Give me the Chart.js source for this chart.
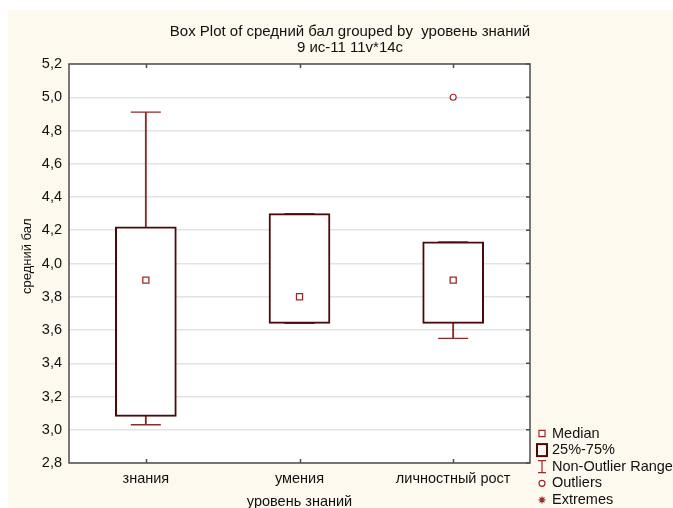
<!DOCTYPE html>
<html>
<head>
<meta charset="utf-8">
<style>
  html, body { margin: 0; padding: 0; background: #ffffff; }
  #wrap { width: 673px; height: 508px; }
</style>
<script src="https://cdn.jsdelivr.net/npm/chart.js@4/dist/chart.umd.min.js"></script>
</head>
<body>
<div id="wrap"><canvas id="c" width="673" height="508"></canvas></div>
<script>
// Box plot summary per group
const categories = ['знания', 'умения', 'личностный рост'];
const medians = [3.90, 3.80, 3.90];
const q1 = [3.08, 3.64, 3.64];
const q3 = [4.22, 4.30, 4.13];
const whiskerLow = [3.03, 3.64, 3.55];
const whiskerHigh = [4.91, 4.30, 4.13];
const outliers = [[], [], [5.0]];
const yTicks = [2.8, 3.0, 3.2, 3.4, 3.6, 3.8, 4.0, 4.2, 4.4, 4.6, 4.8, 5.0, 5.2];
const legendItems = ['Median', '25%-75%', 'Non-Outlier Range', 'Outliers', 'Extremes'];

const FONT = 'Liberation Sans, Arial, Helvetica, sans-serif';
const FS = 14.5;
const BOX_COLOR = '#4b0a0a';
const WHISKER_COLOR = '#8c2a2a';
const MARK_COLOR = '#9c2a2a';
const PANEL = '#fef9ef';

const backgroundPlugin = {
  id: 'panelBackground',
  beforeDraw(chart) {
    const { ctx, chartArea: a, width, height } = chart;
    ctx.save();
    ctx.fillStyle = '#ffffff';
    ctx.fillRect(0, 0, width, height);
    ctx.fillStyle = PANEL;
    ctx.fillRect(8, 10, width - 8, height - 10);
    ctx.fillStyle = '#ffffff';
    ctx.fillRect(a.left, a.top, a.right - a.left, a.bottom - a.top);
    ctx.restore();
  }
};

const framePlugin = {
  id: 'plotFrame',
  afterDatasetsDraw(chart) {
    const { ctx, chartArea: a, scales } = chart;
    ctx.save();
    ctx.strokeStyle = '#4d4d4d';
    ctx.lineWidth = 1.5;
    ctx.strokeRect(a.left, a.top, a.right - a.left, a.bottom - a.top);
    ctx.beginPath();
    categories.forEach((c, i) => {
      const x = Math.round(scales.x.getPixelForValue(i)) + 0.5;
      ctx.moveTo(x, a.top); ctx.lineTo(x, a.top + 4);
      ctx.moveTo(x, a.bottom); ctx.lineTo(x, a.bottom - 4);
    });
    yTicks.forEach(v => {
      const y = scales.y.getPixelForValue(v);
      ctx.moveTo(a.right, y); ctx.lineTo(a.right - 4, y);
    });
    ctx.stroke();
    ctx.restore();
  }
};

const legendPlugin = {
  id: 'boxLegend',
  afterDraw(chart) {
    const { ctx, chartArea: a } = chart;
    const sx = a.right + 12;
    const tx = a.right + 22;
    const y0 = a.bottom - 29.5;
    const step = 16.6;
    ctx.save();
    ctx.font = FS + 'px ' + FONT;
    ctx.textBaseline = 'middle';
    ctx.textAlign = 'left';
    legendItems.forEach((label, i) => {
      const y = y0 + i * step;
      ctx.lineWidth = 1.2;
      ctx.strokeStyle = MARK_COLOR;
      ctx.fillStyle = '#ffffff';
      if (i === 0) {
        Chart.helpers.drawPoint(ctx, { pointStyle: 'rect', radius: 4.3, rotation: 0, borderWidth: 1.2 }, sx, y);
      } else if (i === 1) {
        ctx.strokeStyle = BOX_COLOR;
        ctx.lineWidth = 2;
        ctx.strokeRect(sx - 5, y - 6, 10, 12);
      } else if (i === 2) {
        ctx.beginPath();
        ctx.moveTo(sx, y - 6); ctx.lineTo(sx, y + 6);
        ctx.moveTo(sx - 4, y - 6); ctx.lineTo(sx + 4, y - 6);
        ctx.moveTo(sx - 4, y + 6); ctx.lineTo(sx + 4, y + 6);
        ctx.stroke();
      } else if (i === 3) {
        Chart.helpers.drawPoint(ctx, { pointStyle: 'circle', radius: 3, rotation: 0, borderWidth: 1.2 }, sx, y);
      } else {
        Chart.helpers.drawPoint(ctx, { pointStyle: 'star', radius: 3.5, rotation: 0, borderWidth: 1.2 }, sx, y);
      }
      ctx.fillStyle = '#111111';
      ctx.fillText(label, tx, y);
    });
    ctx.restore();
  }
};

const fmt = v => Number(v).toFixed(1).replace('.', ',');

new Chart(document.getElementById('c'), {
  type: 'bar',
  data: {
    labels: categories,
    datasets: [
      {
        label: 'range',
        data: categories.map((c, i) => [whiskerLow[i], whiskerHigh[i]]),
        backgroundColor: WHISKER_COLOR,
        borderWidth: 0,
        barThickness: 1.2,
        grouped: false,
        order: 4
      },
      {
        type: 'line',
        label: 'caps',
        data: categories.flatMap((c, i) => [{ x: c, y: whiskerLow[i] }, { x: c, y: whiskerHigh[i] }]),
        showLine: false,
        pointStyle: 'line',
        pointRadius: 15,
        pointBorderWidth: 1.3,
        pointBorderColor: WHISKER_COLOR,
        order: 3
      },
      {
        label: '25%-75%',
        data: categories.map((c, i) => [q1[i], q3[i]]),
        backgroundColor: '#ffffff',
        borderColor: BOX_COLOR,
        borderWidth: 2,
        borderSkipped: false,
        barThickness: 61,
        grouped: false,
        order: 2
      },
      {
        type: 'line',
        label: 'Median',
        data: categories.map((c, i) => ({ x: c, y: medians[i] })),
        showLine: false,
        pointStyle: 'rect',
        pointRadius: 4.3,
        pointBorderWidth: 1.3,
        pointBorderColor: MARK_COLOR,
        pointBackgroundColor: '#ffffff',
        order: 0
      },
      {
        type: 'line',
        label: 'Outliers',
        data: categories.flatMap((c, i) => outliers[i].map(v => ({ x: c, y: v }))),
        showLine: false,
        pointStyle: 'circle',
        pointRadius: 3,
        pointBorderWidth: 1.2,
        pointBorderColor: MARK_COLOR,
        pointBackgroundColor: '#ffffff',
        order: 0
      }
    ]
  },
  options: {
    responsive: false,
    animation: false,
    devicePixelRatio: 1,
    layout: { padding: { left: 27, top: 0, right: 0, bottom: 0 } },
    plugins: {
      legend: { display: false },
      tooltip: { enabled: false },
      title: {
        display: true,
        text: 'Box Plot of средний бал grouped by  уровень знаний',
        color: '#111111',
        font: { family: FONT, size: 15, weight: 'normal', lineHeight: 1 },
        padding: { top: 24, bottom: 1.5 }
      },
      subtitle: {
        display: true,
        text: '9 ис-11 11v*14c',
        color: '#111111',
        font: { family: FONT, size: 15, weight: 'normal', lineHeight: 1 },
        padding: { top: 0, bottom: 8.5 }
      }
    },
    scales: {
      x: {
        type: 'category',
        offset: true,
        grid: { display: false, drawTicks: false },
        border: { display: false },
        ticks: {
          color: '#111111',
          font: { family: FONT, size: FS },
          padding: 7,
          maxRotation: 0,
          autoSkip: false
        },
        title: {
          display: true,
          text: 'уровень знаний',
          color: '#111111',
          font: { family: FONT, size: FS },
          padding: { top: 2, bottom: -3 }
        },
        afterFit(s) { s.height = 45; }
      },
      y: {
        type: 'linear',
        min: 2.8,
        max: 5.2,
        afterBuildTicks(s) { s.ticks = yTicks.map(v => ({ value: v })); },
        grid: { color: '#e3e3e3', lineWidth: 1.5, drawTicks: false },
        border: { display: false },
        ticks: {
          color: '#111111',
          font: { family: FONT, size: FS },
          padding: 7,
          callback: v => fmt(v)
        },
        title: {
          display: true,
          text: '    средний бал',
          color: '#111111',
          font: { family: FONT, size: 13 },
          padding: { top: -7.8, bottom: 0 }
        },
        afterFit(s) { s.width = 42; }
      },
      y2: {
        type: 'linear',
        position: 'right',
        min: 2.8,
        max: 5.2,
        grid: { display: false },
        border: { display: false },
        ticks: { display: false },
        afterFit(s) { s.width = 143; }
      }
    }
  },
  plugins: [backgroundPlugin, framePlugin, legendPlugin]
});
</script>
</body>
</html>
